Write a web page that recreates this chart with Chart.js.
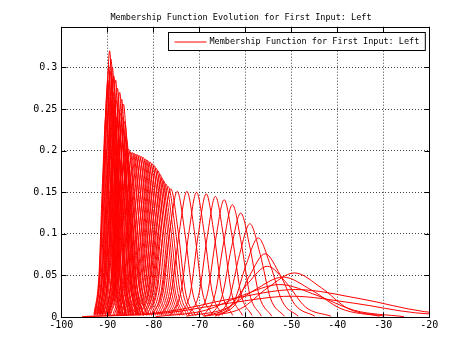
<!DOCTYPE html>
<html><head><meta charset="utf-8">
<script src="https://cdn.jsdelivr.net/npm/chart.js@4.4.1/dist/chart.umd.min.js"></script>
<style>html,body{margin:0;padding:0;background:#fff;}#wrap{width:474px;height:355px;}</style>
</head><body><div id="wrap"><canvas id="c" width="474" height="355"></canvas></div>
<script>
const chartTitle = 'Membership Function Evolution for First Input: Left';
const legendLabel = 'Membership Function for First Input: Left';
const xTickLabels = ['-100','-90','-80','-70','-60','-50','-40','-30','-20'];
const yTickLabels = ['0','0.05','0.1','0.15','0.2','0.25','0.3'];

// membership curves, [x, degree] points
const mf01 = [[-92.05,0.004],[-91.03,0.063],[-90.27,0.213],[-89.5,0.32],[-88.74,0.213],[-87.97,0.063],[-86.95,0.004]];
const mf02 = [[-92.25,0.003],[-91.23,0.059],[-90.47,0.2],[-89.7,0.3],[-88.94,0.2],[-88.17,0.059],[-87.15,0.003]];
const mf03 = [[-92.7,0.003],[-91.62,0.053],[-90.81,0.18],[-90,0.27],[-89.19,0.18],[-88.38,0.053],[-87.3,0.003]];
const mf04 = [[-92.9,0.003],[-91.82,0.05],[-91.01,0.167],[-90.2,0.25],[-89.39,0.167],[-88.58,0.05],[-87.5,0.003]];
const mf05 = [[-91.75,0.003],[-90.73,0.061],[-89.97,0.207],[-89.2,0.31],[-88.44,0.207],[-87.67,0.061],[-86.65,0.003]];
const mf06 = [[-91.6,0.003],[-90.52,0.059],[-89.71,0.2],[-88.9,0.3],[-88.09,0.2],[-87.28,0.059],[-86.2,0.003]];
const mf07 = [[-91.3,0.003],[-90.22,0.057],[-89.41,0.193],[-88.6,0.29],[-87.79,0.193],[-86.98,0.057],[-85.9,0.003]];
const mf08 = [[-91.05,0.003],[-89.91,0.056],[-89.06,0.19],[-88.2,0.285],[-87.35,0.19],[-86.49,0.056],[-85.35,0.003]];
const mf09 = [[-90.8,0.003],[-89.6,0.054],[-88.7,0.183],[-87.8,0.275],[-86.9,0.183],[-86,0.054],[-84.8,0.003]];
const mf10 = [[-90.3,0.003],[-89.1,0.053],[-88.2,0.18],[-87.3,0.27],[-86.4,0.18],[-85.5,0.053],[-84.3,0.003]];
const mf11 = [[-90.05,0.003],[-88.79,0.052],[-87.85,0.175],[-86.9,0.262],[-85.96,0.175],[-85.01,0.052],[-83.75,0.003]];
const mf12 = [[-89.8,0.003],[-88.48,0.051],[-87.49,0.171],[-86.5,0.256],[-85.51,0.171],[-84.52,0.051],[-83.2,0.003]];
const mf13 = [[-89.65,0.003],[-88.27,0.047],[-87.24,0.157],[-86.2,0.235],[-85.17,0.157],[-84.13,0.047],[-82.75,0.003]];
const mf14 = [[-89.65,0.002],[-88.15,0.043],[-87.03,0.143],[-85.9,0.215],[-84.78,0.143],[-83.65,0.043],[-82.15,0.002]];
const mf15 = [[-89.45,0.002],[-87.83,0.04],[-86.62,0.135],[-85.4,0.202],[-84.19,0.135],[-82.97,0.04],[-81.35,0.002]];
const mf16 = [[-92.85,0.002],[-91.83,0.04],[-91.07,0.133],[-90.3,0.2],[-89.54,0.133],[-88.77,0.04],[-87.75,0.002]];
const mf17 = [[-91.15,0.003],[-89.89,0.048],[-88.95,0.16],[-88,0.24],[-87.06,0.16],[-86.11,0.048],[-84.85,0.003]];
const mf18 = [[-90.45,0.002],[-89.07,0.045],[-88.04,0.15],[-87,0.225],[-85.97,0.15],[-84.93,0.045],[-83.55,0.002]];
const mf19 = [[-91.85,0.003],[-90.71,0.051],[-89.86,0.173],[-89,0.26],[-88.15,0.173],[-87.29,0.051],[-86.15,0.003]];
const mf20 = [[-91.4,0.003],[-90.2,0.05],[-89.3,0.167],[-88.4,0.25],[-87.5,0.167],[-86.6,0.05],[-85.4,0.003]];
const mf21 = [[-88.8,0.002],[-87.12,0.039],[-85.86,0.132],[-84.6,0.198],[-83.34,0.132],[-82.08,0.039],[-80.4,0.002]];
const mf22 = [[-88.06,0.002],[-86.36,0.039],[-85.08,0.131],[-83.8,0.196],[-82.52,0.131],[-81.24,0.039],[-79.54,0.002]];
const mf23 = [[-87.32,0.002],[-85.59,0.038],[-84.3,0.129],[-83,0.194],[-81.7,0.129],[-80.41,0.038],[-78.68,0.002]];
const mf24 = [[-86.58,0.002],[-84.83,0.038],[-83.51,0.128],[-82.2,0.192],[-80.89,0.128],[-79.57,0.038],[-77.82,0.002]];
const mf25 = [[-85.84,0.002],[-84.06,0.037],[-82.73,0.126],[-81.4,0.189],[-80.07,0.126],[-78.74,0.037],[-76.96,0.002]];
const mf26 = [[-85.1,0.002],[-83.3,0.037],[-81.95,0.124],[-80.6,0.186],[-79.25,0.124],[-77.9,0.037],[-76.1,0.002]];
const mf27 = [[-84.39,0.002],[-82.55,0.036],[-81.18,0.121],[-79.8,0.182],[-78.42,0.121],[-77.05,0.036],[-75.21,0.002]];
const mf28 = [[-83.74,0.002],[-81.84,0.035],[-80.42,0.117],[-79,0.176],[-77.58,0.117],[-76.16,0.035],[-74.26,0.002]];
const mf29 = [[-83.09,0.002],[-81.13,0.033],[-79.67,0.112],[-78.2,0.168],[-76.73,0.112],[-75.27,0.033],[-73.31,0.002]];
const mf30 = [[-82.4,0.002],[-80.36,0.032],[-78.83,0.107],[-77.3,0.16],[-75.77,0.107],[-74.24,0.032],[-72.2,0.002]];
const mf31 = [[-81.54,0.002],[-79.4,0.03],[-77.8,0.103],[-76.2,0.154],[-74.6,0.103],[-73,0.03],[-70.86,0.002]];
const mf32 = [[-80.35,0.002],[-78.13,0.03],[-76.47,0.101],[-74.8,0.151],[-73.13,0.101],[-71.47,0.03],[-69.25,0.002]];
const mf33 = [[-78.31,0.002],[-76.07,0.03],[-74.38,0.101],[-72.7,0.151],[-71.02,0.101],[-69.33,0.03],[-67.09,0.002]];
const mf34 = [[-76.27,0.002],[-74,0.03],[-72.3,0.1],[-70.6,0.15],[-68.9,0.1],[-67.2,0.03],[-64.93,0.002]];
const mf35 = [[-74.26,0.002],[-71.96,0.029],[-70.23,0.099],[-68.5,0.148],[-66.77,0.099],[-65.04,0.029],[-62.74,0.002]];
const mf36 = [[-72.38,0.002],[-70.03,0.029],[-68.26,0.097],[-66.5,0.145],[-64.74,0.097],[-62.97,0.029],[-60.62,0.002]];
const mf37 = [[-70.66,0.002],[-68.24,0.028],[-66.42,0.094],[-64.6,0.141],[-62.78,0.094],[-60.96,0.028],[-58.54,0.002]];
const mf38 = [[-69.1,0.001],[-66.58,0.027],[-64.69,0.09],[-62.8,0.135],[-60.91,0.09],[-59.02,0.027],[-56.5,0.001]];
const mf39 = [[-67.75,0.001],[-65.05,0.025],[-63.03,0.083],[-61,0.125],[-58.97,0.083],[-56.95,0.025],[-54.25,0.001]];
const mf40 = [[-66.5,0.001],[-63.5,0.022],[-61.25,0.075],[-59,0.112],[-56.75,0.075],[-54.5,0.022],[-51.5,0.001]];
const mf41 = [[-65.9,0.001],[-62.42,0.019],[-59.81,0.063],[-57.2,0.095],[-54.59,0.063],[-51.98,0.019],[-48.5,0.001]];
const mf42 = [[-66.5,0.001],[-62.18,0.015],[-58.94,0.051],[-55.7,0.076],[-52.46,0.051],[-49.22,0.015],[-44.9,0.001]];
const mf43 = [[-69,0.001],[-63.48,0.012],[-59.34,0.041],[-55.2,0.061],[-51.06,0.041],[-46.92,0.012],[-41.4,0.001]];
const mf44 = [[-68.8,0.001],[-61,0.01],[-55.15,0.035],[-49.3,0.053],[-43.45,0.035],[-37.6,0.01],[-29.8,0.001]];
const mf45 = [[-72.8,0.001],[-64.4,0.01],[-58.1,0.032],[-51.8,0.048],[-45.5,0.032],[-39.2,0.01],[-30.8,0.001]];
const mf46 = [[-79.5,0.0004],[-68.7,0.008],[-60.6,0.026],[-52.5,0.039],[-44.4,0.026],[-36.3,0.008],[-25.5,0.0004]];
const mf47 = [[-95.5,0.0004],[-76.9,0.0065],[-62.95,0.022],[-49,0.033],[-35.05,0.022],[-21.1,0.0065],[-2.5,0.0004]];
const mf48 = [[-95,0.0003],[-77,0.005],[-63.5,0.0167],[-50,0.025],[-36.5,0.0167],[-23,0.005],[-5,0.0003]];
const mf49 = [[-92.54,0.003],[-91.48,0.056],[-90.69,0.19],[-89.9,0.285],[-89.11,0.19],[-88.32,0.056],[-87.26,0.003]];
const mf50 = [[-92.05,0.003],[-90.97,0.058],[-90.16,0.197],[-89.35,0.295],[-88.54,0.197],[-87.73,0.058],[-86.65,0.003]];
const mf51 = [[-91.6,0.003],[-90.46,0.053],[-89.61,0.18],[-88.75,0.27],[-87.9,0.18],[-87.04,0.053],[-85.9,0.003]];
const mf52 = [[-91.05,0.003],[-89.85,0.051],[-88.95,0.173],[-88.05,0.26],[-87.15,0.173],[-86.25,0.051],[-85.05,0.003]];
const mf53 = [[-90.7,0.003],[-89.44,0.05],[-88.5,0.167],[-87.55,0.25],[-86.61,0.167],[-85.66,0.05],[-84.4,0.003]];
const mf54 = [[-90.4,0.003],[-89.08,0.049],[-88.09,0.163],[-87.1,0.245],[-86.11,0.163],[-85.12,0.049],[-83.8,0.003]];
const mf55 = [[-90,0.003],[-88.68,0.048],[-87.69,0.16],[-86.7,0.24],[-85.71,0.16],[-84.72,0.048],[-83.4,0.003]];
const mf56 = [[-89.95,0.002],[-88.51,0.045],[-87.43,0.15],[-86.35,0.225],[-85.27,0.15],[-84.19,0.045],[-82.75,0.002]];
const mf57 = [[-89.9,0.002],[-88.34,0.04],[-87.17,0.133],[-86,0.2],[-84.83,0.133],[-83.66,0.04],[-82.1,0.002]];
const mf58 = [[-89.8,0.002],[-88.12,0.038],[-86.86,0.127],[-85.6,0.19],[-84.34,0.127],[-83.08,0.038],[-81.4,0.002]];
const mf59 = [[-92.2,0.002],[-90.64,0.04],[-89.47,0.133],[-88.3,0.2],[-87.13,0.133],[-85.96,0.04],[-84.4,0.002]];
const mf60 = [[-91.6,0.002],[-89.92,0.038],[-88.66,0.127],[-87.4,0.19],[-86.14,0.127],[-84.88,0.038],[-83.2,0.002]];
const mf61 = [[-91.1,0.002],[-89.3,0.036],[-87.95,0.12],[-86.6,0.18],[-85.25,0.12],[-83.9,0.036],[-82.1,0.002]];
const mf62 = [[-92.5,0.002],[-91.18,0.044],[-90.19,0.147],[-89.2,0.22],[-88.21,0.147],[-87.22,0.044],[-85.9,0.002]];
const mf63 = [[-89.3,0.002],[-87.62,0.039],[-86.36,0.133],[-85.1,0.199],[-83.84,0.133],[-82.58,0.039],[-80.9,0.002]];
const mf64 = [[-88.46,0.002],[-86.76,0.039],[-85.48,0.131],[-84.2,0.197],[-82.92,0.131],[-81.64,0.039],[-79.94,0.002]];
const mf65 = [[-87.72,0.002],[-85.99,0.039],[-84.7,0.13],[-83.4,0.195],[-82.1,0.13],[-80.81,0.039],[-79.08,0.002]];
const mf66 = [[-86.98,0.002],[-85.23,0.038],[-83.91,0.129],[-82.6,0.193],[-81.29,0.129],[-79.97,0.038],[-78.22,0.002]];
const mf67 = [[-86.24,0.002],[-84.46,0.038],[-83.13,0.127],[-81.8,0.19],[-80.47,0.127],[-79.14,0.038],[-77.36,0.002]];
const mf68 = [[-85.5,0.002],[-83.7,0.037],[-82.35,0.125],[-81,0.187],[-79.65,0.125],[-78.3,0.037],[-76.5,0.002]];
const mf69 = [[-84.76,0.002],[-82.94,0.036],[-81.57,0.123],[-80.2,0.184],[-78.83,0.123],[-77.46,0.036],[-75.64,0.002]];
const mf70 = [[-84.08,0.002],[-82.21,0.035],[-80.8,0.119],[-79.4,0.179],[-78,0.119],[-76.59,0.035],[-74.72,0.002]];
const mf71 = [[-83.46,0.002],[-81.52,0.034],[-80.06,0.115],[-78.6,0.172],[-77.14,0.115],[-75.68,0.034],[-73.74,0.002]];
const mf72 = [[-82.9,0.002],[-80.86,0.032],[-79.33,0.109],[-77.8,0.164],[-76.27,0.109],[-74.74,0.032],[-72.7,0.002]];
const mf73 = [[-82.14,0.002],[-80,0.031],[-78.4,0.105],[-76.8,0.157],[-75.2,0.105],[-73.6,0.031],[-71.46,0.002]];

const curves = [mf01,mf02,mf03,mf04,mf05,mf06,mf07,mf08,mf09,mf10,mf11,mf12,mf13,mf14,mf15,mf16,
  mf17,mf18,mf19,mf20,mf21,mf22,mf23,mf24,mf25,mf26,mf27,mf28,mf29,mf30,mf31,mf32,mf33,mf34,
  mf35,mf36,mf37,mf38,mf39,mf40,mf41,mf42,mf43,mf44,mf45,mf46,mf47,mf48,mf49,mf50,mf51,mf52,
  mf53,mf54,mf55,mf56,mf57,mf58,mf59,mf60,mf61,mf62,mf63,mf64,mf65,mf66,mf67,mf68,mf69,mf70,
  mf71,mf72,mf73];

const FONT = '"DejaVu Sans Mono", monospace';

const framePlugin = {
  id: 'framePlugin',
  afterDatasetsDraw(chart) {
    const ctx = chart.ctx, ca = chart.chartArea;
    const xs = chart.scales.x, ys = chart.scales.y;
    const L = Math.round(ca.left) + 0.5, R = Math.round(ca.right) + 0.5;
    const T = Math.round(ca.top) + 0.5, B = Math.round(ca.bottom) + 0.5;
    ctx.save();
    ctx.strokeStyle = '#000';
    ctx.lineWidth = 1;
    ctx.setLineDash([]);
    ctx.strokeRect(L, T, R - L, B - T);
    const tl = 5;
    ctx.beginPath();
    xs.ticks.forEach(t => {
      const px = Math.round(xs.getPixelForValue(t.value)) + 0.5;
      ctx.moveTo(px, B); ctx.lineTo(px, B - tl);
      ctx.moveTo(px, T); ctx.lineTo(px, T + tl);
    });
    ys.ticks.forEach(t => {
      const py = Math.round(ys.getPixelForValue(t.value)) + 0.5;
      ctx.moveTo(L, py); ctx.lineTo(L + tl, py);
      ctx.moveTo(R, py); ctx.lineTo(R - tl, py);
    });
    ctx.stroke();
    // legend
    ctx.font = '8.5px ' + FONT;
    const tw = ctx.measureText(legendLabel).width;
    const bw = 41 + tw + 6, bh = 18;
    const bx = Math.round(ca.right - 4.3 - bw) + 0.5, by = Math.round(ca.top + 5.6) + 0.5;
    ctx.fillStyle = '#fff';
    ctx.fillRect(bx, by, bw, bh);
    ctx.strokeStyle = '#000';
    ctx.strokeRect(bx, by, bw, bh);
    ctx.strokeStyle = '#ff0000';
    ctx.beginPath();
    ctx.moveTo(bx + 6, by + 9.5); ctx.lineTo(bx + 38, by + 9.5);
    ctx.stroke();
    ctx.fillStyle = '#000';
    ctx.textBaseline = 'middle';
    ctx.textAlign = 'left';
    ctx.fillText(legendLabel, bx + 41, by + 9.5);
    ctx.restore();
  }
};

Chart.defaults.font.family = FONT;
Chart.defaults.color = '#000';

new Chart(document.getElementById('c'), {
  type: 'line',
  data: {
    datasets: curves.map(d => ({
      data: d,
      borderColor: '#ff0000',
      borderWidth: 1,
      pointRadius: 0,
      fill: false,
      tension: 0.4,
      cubicInterpolationMode: 'monotone'
    }))
  },
  options: {
    responsive: false,
    animation: false,
    devicePixelRatio: 1,
    events: [],
    layout: { padding: { left: 8, right: 0, top: 0, bottom: 0 } },
    plugins: {
      legend: { display: false },
      tooltip: { enabled: false },
      title: {
        display: true,
        text: chartTitle,
        color: '#000',
        font: { family: FONT, size: 8.5, weight: 'normal' },
        padding: { top: 13, bottom: 3.5 }
      }
    },
    scales: {
      x: {
        type: 'linear',
        min: -100, max: -20,
        border: { display: false, dash: [1, 2] },
        grid: { color: 'rgba(0,0,0,0.75)', drawTicks: false, lineWidth: 1 },
        ticks: {
          stepSize: 10, autoSkip: false, maxRotation: 0, padding: 2,
          font: { family: FONT, size: 10 }, color: '#000',
          callback: (v, i) => xTickLabels[i]
        },
        afterFit: s => { s.height = 38; }
      },
      y: {
        type: 'linear',
        min: 0, max: 0.349,
        border: { display: false, dash: [1, 2] },
        grid: { color: 'rgba(0,0,0,0.75)', drawTicks: false, lineWidth: 1 },
        ticks: {
          stepSize: 0.05, includeBounds: false, padding: 4,
          font: { family: FONT, size: 10 }, color: '#000',
          callback: (v, i) => yTickLabels[i]
        },
        afterFit: s => { s.width = 53.3; }
      },
      yR: {
        type: 'linear',
        position: 'right',
        display: true,
        border: { display: false },
        grid: { display: false, drawTicks: false },
        ticks: { display: false },
        afterFit: s => { s.width = 44.7; }
      }
    }
  },
  plugins: [framePlugin]
});
</script>
</body></html>
